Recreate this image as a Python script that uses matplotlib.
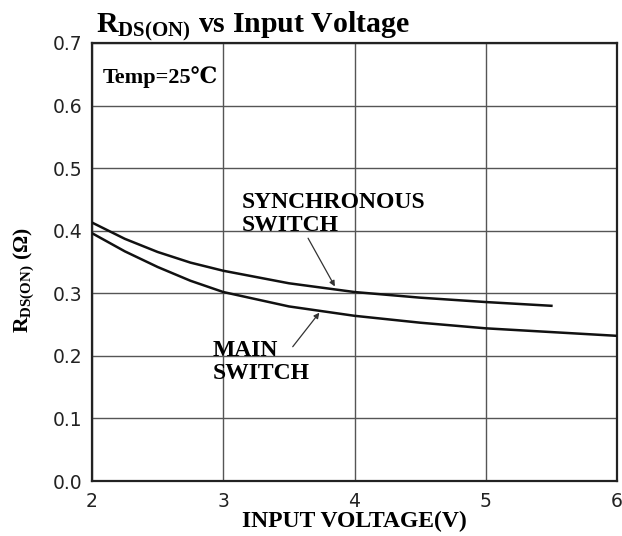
import matplotlib
matplotlib.use("Agg")
import matplotlib.pyplot as plt

plt.rcParams['mathtext.fontset'] = 'custom'
plt.rcParams['mathtext.rm'] = 'Liberation Serif:bold'
plt.rcParams['mathtext.it'] = 'Liberation Serif:bold'
plt.rcParams['mathtext.bf'] = 'Liberation Serif:bold'

# Data
sync_v = [2.0, 2.25, 2.5, 2.75, 3.0, 3.5, 4.0, 4.5, 5.0, 5.5]
sync_r = [0.413, 0.387, 0.366, 0.349, 0.336, 0.316, 0.302, 0.293, 0.286, 0.280]
main_v = [2.0, 2.25, 2.5, 2.75, 3.0, 3.5, 4.0, 4.5, 5.0, 5.5, 6.0]
main_r = [0.396, 0.367, 0.342, 0.320, 0.302, 0.279, 0.264, 0.253, 0.244, 0.238, 0.232]

x_ticks = [2, 3, 4, 5, 6]
y_ticks = [0.0, 0.1, 0.2, 0.3, 0.4, 0.5, 0.6, 0.7]
y_tick_labels = ["0.0", "0.1", "0.2", "0.3", "0.4", "0.5", "0.6", "0.7"]

serif_bold = dict(family=['Liberation Serif', 'DejaVu Serif'], fontweight='bold')

fig = plt.figure(figsize=(6.22, 5.36), dpi=100)
ax = fig.add_axes([0.148, 0.1026, 0.844, 0.8172])

ax.plot(sync_v, sync_r, color='#111111', lw=1.8, zorder=3)
ax.plot(main_v, main_r, color='#111111', lw=1.8, zorder=3)

ax.set_xlim(2, 6)
ax.set_ylim(0, 0.7)
ax.set_xticks(x_ticks)
ax.set_yticks(y_ticks)
ax.set_yticklabels(y_tick_labels)
ax.tick_params(axis='y', length=0, labelsize=13.5, pad=7)
ax.tick_params(axis='x', length=0, labelsize=13.5, pad=8)
for lab in ax.get_xticklabels() + ax.get_yticklabels():
    lab.set_family(['DejaVu Sans'])
    lab.set_color('#222222')
ax.grid(True, color='#555555', lw=1.0)
ax.set_axisbelow(True)
for s in ax.spines.values():
    s.set_linewidth(1.6)
    s.set_color('#222222')

ax.set_xlabel('INPUT VOLTAGE(V)', fontsize=17, labelpad=0, **serif_bold)
ax.set_ylabel(r'R$_{\mathrm{DS(ON)}}$ ($\Omega$)', fontsize=15.5, **serif_bold)
ax.yaxis.set_label_coords(-0.106, 0.459)

fig.text(96 / 622, 1 - 32 / 536, r'R$_{\mathrm{DS(ON)}}$ vs Input Voltage',
         fontsize=21.5, ha='left', va='baseline', **serif_bold)

ax.text(0.02, 0.923, 'Temp=25℃', transform=ax.transAxes, fontsize=16,
        ha='left', va='center', **serif_bold)

ax.text(3.14, 0.427, 'SYNCHRONOUS\nSWITCH', fontsize=17, ha='left', va='center',
        linespacing=1.1, **serif_bold)
ax.text(2.92, 0.190, 'MAIN\nSWITCH', fontsize=17, ha='left', va='center',
        linespacing=1.1, **serif_bold)

arrow = dict(arrowstyle='-|>', color='#333333', lw=0.9, mutation_scale=8,
             shrinkA=0, shrinkB=0)
ax.annotate('', xy=(3.85, 0.311), xytext=(3.646, 0.388), arrowprops=arrow)
ax.annotate('', xy=(3.732, 0.269), xytext=(3.529, 0.2146), arrowprops=arrow)

fig.savefig('out.png', dpi=100, facecolor='white')
